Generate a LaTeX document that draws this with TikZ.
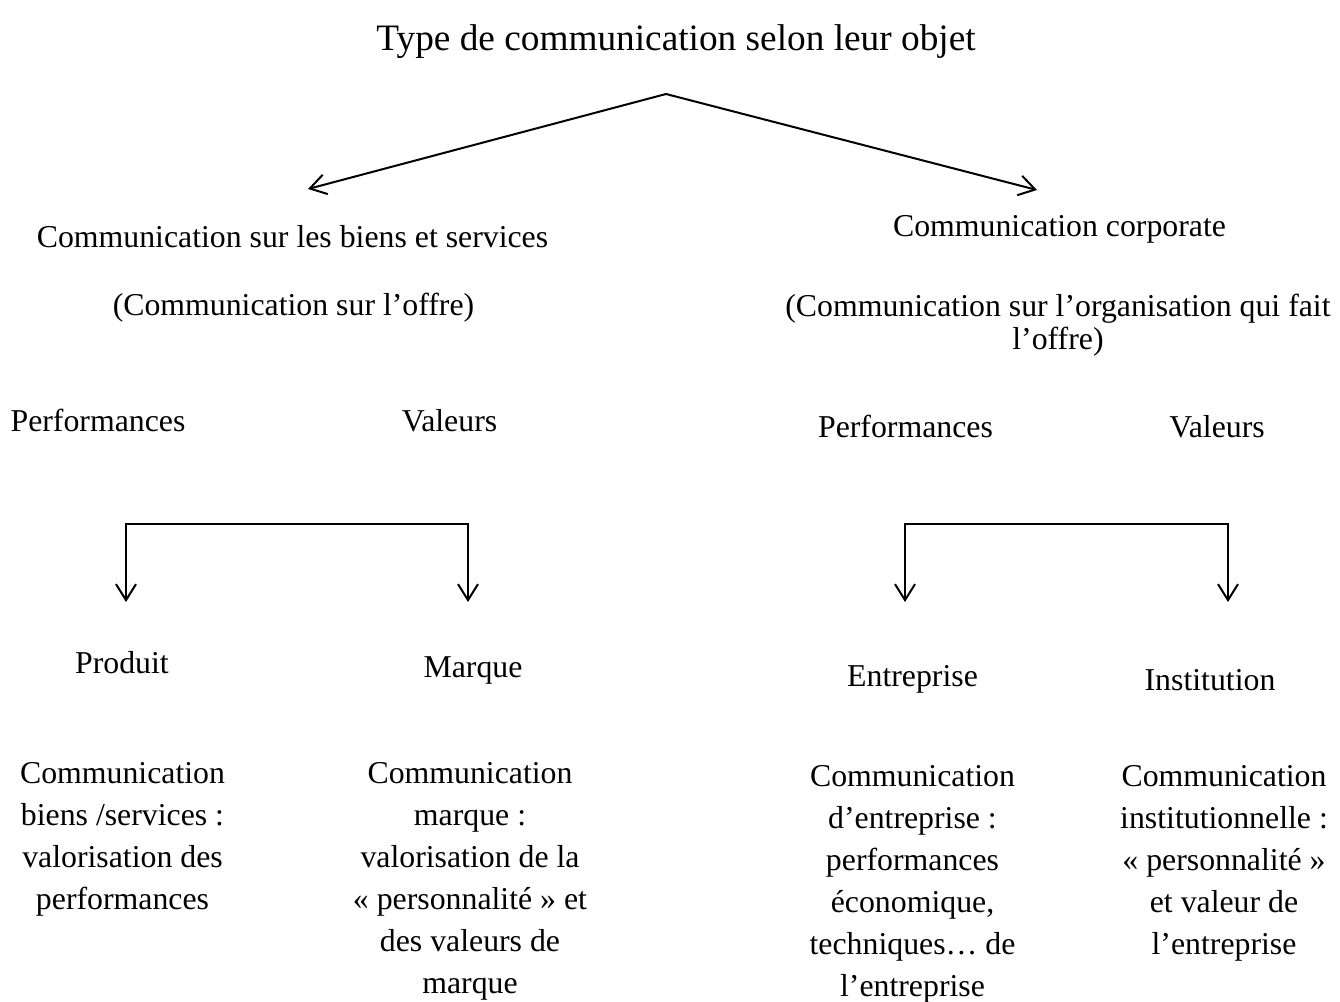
\documentclass[tikz,border=0pt]{standalone}
\usepackage{fontspec}
\setmainfont{Liberation Serif}
\usepackage{tikz}
\usetikzlibrary{arrows.meta,positioning}

\begin{document}
\begin{tikzpicture}[x=1pt,y=-1pt,>={Straight Barb[length=16pt,width=20pt,line width=2pt]},
  every node/.style={inner sep=0pt,anchor=base,font=\fontsize{31.8}{42}\selectfont},
  block/.style={align=center,anchor=north},
  link/.style={line width=2pt}]
  \useasboundingbox (0,0) rectangle (1340,1001);
  \node[font=\fontsize{37.3}{44}\selectfont] (title) at (676,50) {Type de communication selon leur objet};
  % top split
  \coordinate (apex) at (666,94);
  \coordinate (tipL) at (308,189);
  \coordinate (tipR) at (1037,190);
  \draw[link,->] (apex) -- (tipL);
  \draw[link,->] (apex) -- (tipR);
  \node (offre) at (292.5,247) {Communication sur les biens et services};
  \node (offreSub) at (293.5,315) {(Communication sur l’offre)};
  \node (corp) at (1059.5,236) {Communication corporate};
  \node[align=center,font=\fontsize{31.8}{33}\selectfont,anchor=north] (corpSub) at (1058,293.5)
    {(Communication sur l’organisation qui fait\\l’offre)};
  \node (perfL) at (98,431) {Performances};
  \node (valL) at (449.5,431) {Valeurs};
  \node (perfR) at (905.5,437) {Performances};
  \node (valR) at (1217,437) {Valeurs};
  % brackets
  \coordinate (bL1) at (126,524);
  \coordinate (bL2) at (468,524);
  \coordinate (bR1) at (905,524);
  \coordinate (bR2) at (1228,524);
  \draw[link,->] (bL2) -- (bL1) -- (bL1 |- 0,602);
  \draw[link,->] (bL1) -- (bL2) -- (bL2 |- 0,602);
  \draw[link,->] (bR2) -- (bR1) -- (bR1 |- 0,602);
  \draw[link,->] (bR1) -- (bR2) -- (bR2 |- 0,602);
  \node (produit) at (122,673) {Produit};
  \node (marque) at (473,677) {Marque};
  \node (entr) at (912.5,686) {Entreprise};
  \node (inst) at (1210,690) {Institution};
  % descriptions
  \node[block] (dProduit) at (122.5,762.5)
    {Communication\\biens /services :\\valorisation des\\performances};
  \node[block] (dMarque) at (470,762.5)
    {Communication\\marque :\\valorisation de la\\« personnalité » et\\des valeurs de\\marque};
  \node[block] (dEntr) at (912.5,765.5)
    {Communication\\d’entreprise :\\performances\\économique,\\techniques… de\\l’entreprise};
  \node[block] (dInst) at (1224,765.5)
    {Communication\\institutionnelle :\\« personnalité »\\et valeur de\\l’entreprise};
\end{tikzpicture}
\end{document}
